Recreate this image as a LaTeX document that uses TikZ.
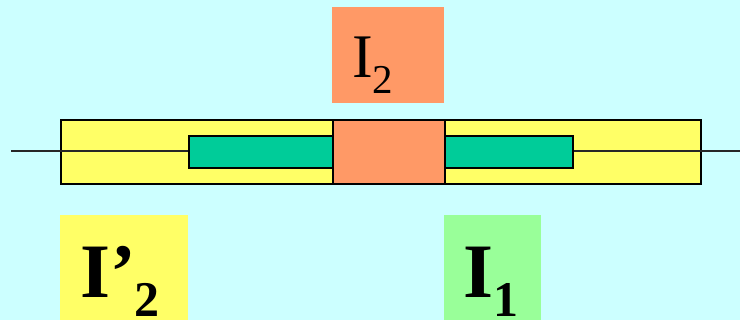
\documentclass[tikz,border=0pt]{standalone}
\usepackage{fontspec}
\setmainfont{Liberation Serif}
\definecolor{bg}{HTML}{CCFFFF}
\definecolor{yel}{HTML}{FFFF66}
\definecolor{org}{HTML}{FF9966}
\definecolor{teal}{HTML}{00CC99}
\definecolor{lgreen}{HTML}{99FF99}
\tikzset{
  box/.style={draw=black, line width=2pt, inner sep=0pt, anchor=north west},
  label box/.style={draw=none, inner sep=0pt, anchor=north west},
  axisline/.style={line width=1.6pt, draw=black!85},
  lbl/.style={inner sep=0pt, anchor=base west}
}
\begin{document}
\begin{tikzpicture}[x=1pt,y=-1pt]
\useasboundingbox[fill=bg] (0,0) rectangle (740,320);
% outer yellow body
\node[box, fill=yel, minimum width=640pt, minimum height=64pt] (body) at (60,119) {};
% axis line
\coordinate (L) at (11,151);
\coordinate (R) at (741,151);
\draw[axisline] (L) -- (R);
% green inner parts
\node[box, fill=teal, minimum width=144pt, minimum height=32pt] (gl) at (188,135) {};
\node[box, fill=teal, minimum width=128pt, minimum height=32pt] (gr) at (444,135) {};
% central orange
\node[box, fill=org, minimum width=112pt, minimum height=64pt] (core) at (332,119) {};
% top label box
\node[label box, fill=org, minimum width=112pt, minimum height=96pt] (top) at (332,7) {};
\node[lbl] (t2) at (352,78) {\fontsize{62}{62}\selectfont I\raisebox{-16pt}{\fontsize{41}{41}\selectfont 2}};
% bottom label boxes
\node[label box, fill=yel, minimum width=128pt, minimum height=110pt] (bl) at (60,215) {};
\node[label box, fill=lgreen, minimum width=97pt, minimum height=110pt] (br) at (444,215) {};
\node[lbl] (tl) at (80,298) {\fontsize{77}{77}\selectfont\bfseries I’\kern-1pt\raisebox{-19pt}{\fontsize{50}{50}\selectfont 2}};
\node[lbl] (tr) at (463,298) {\fontsize{77}{77}\selectfont\bfseries I\raisebox{-19pt}{\fontsize{50}{50}\selectfont 1}};
\end{tikzpicture}
\end{document}
